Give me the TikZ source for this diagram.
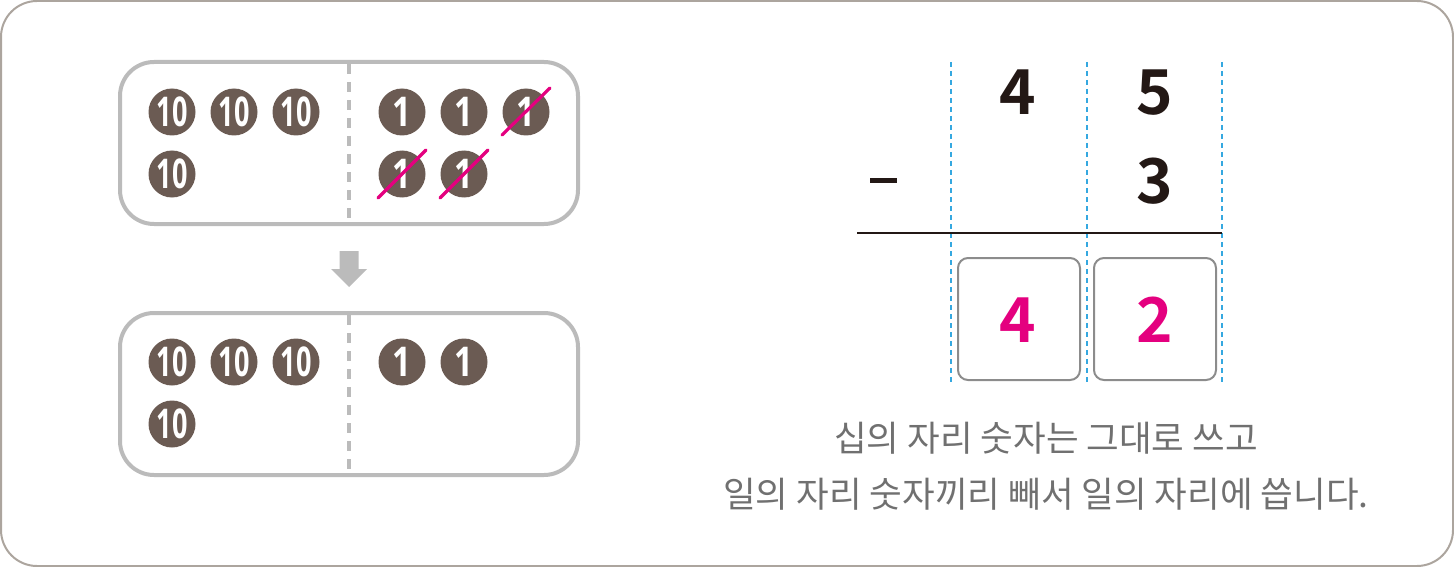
\documentclass[tikz,border=0pt]{standalone}
\usepackage{fontspec}
\newfontfamily\kr{Noto Sans CJK KR}
\newfontfamily\krb{Noto Sans CJK KR Bold}
\newfontfamily\coinfont{Open Sans}
\definecolor{frame}{HTML}{ACA59E}
\definecolor{boxgray}{HTML}{BBBBBB}
\definecolor{coin}{HTML}{6B5B53}
\definecolor{mag}{HTML}{E4007F}
\definecolor{dblue}{HTML}{35A8E0}
\definecolor{ansbox}{HTML}{8C8C8C}
\definecolor{txtgray}{HTML}{707070}
\definecolor{ink}{HTML}{231815}
\begin{document}
\begin{tikzpicture}[x=1pt,y=-1pt,
  coinnode/.style={circle,fill=coin,minimum size=47pt,inner sep=0pt,text=white,
    font=\coinfont\bfseries\fontsize{41}{41}\selectfont},
  panel/.style={draw=boxgray,line width=4pt,rounded corners=34pt},
  divider/.style={draw=boxgray,line width=3.5pt,dash pattern=on 10pt off 8pt},
  cross/.style={draw=mag,line width=3.2pt,line cap=round},
  guide/.style={draw=dblue,line width=1.3pt,dash pattern=on 5pt off 4pt},
  digit/.style={anchor=base,inner sep=0pt,text=ink,font=\krb\fontsize{62}{62}\selectfont},
  ansbox/.style={draw=ansbox,line width=2pt,rounded corners=10pt},
  note/.style={anchor=base,inner sep=0pt,text=txtgray,font=\kr\fontsize{35.5}{35.5}\selectfont}
]
\useasboundingbox (0,0) rectangle (1454,567);
% outer frame
\draw[draw=frame,line width=2pt,rounded corners=36pt] (1,1) rectangle (1453,566);

% top panel
\draw[panel] (120,62) rectangle (578,224);
\coordinate (d1t) at (349,64);
\coordinate (d1b) at (349,222);
\draw[divider] (d1t) -- (d1b);
\node[coinnode] (t1) at (172,112) {\scalebox{0.66}[1]{10}};
\node[coinnode] (t2) at (234,112) {\scalebox{0.66}[1]{10}};
\node[coinnode] (t3) at (296,112) {\scalebox{0.66}[1]{10}};
\node[coinnode] (t4) at (172,174) {\scalebox{0.66}[1]{10}};
\node[coinnode] (o1) at (402,112) {\scalebox{0.8}[1]{1}};
\node[coinnode] (o2) at (464,112) {\scalebox{0.8}[1]{1}};
\node[coinnode] (o3) at (526,112) {\scalebox{0.8}[1]{1}};
\node[coinnode] (o4) at (402,174) {\scalebox{0.8}[1]{1}};
\node[coinnode] (o5) at (464,174) {\scalebox{0.8}[1]{1}};
\draw[cross] ([shift={(-24,23)}]o3.center) -- ([shift={(24,-24)}]o3.center);
\draw[cross] ([shift={(-24,24)}]o4.center) -- ([shift={(24,-24)}]o4.center);
\draw[cross] ([shift={(-24,24)}]o5.center) -- ([shift={(24,-24)}]o5.center);

% arrow
\fill[boxgray] (339.5,251) -- (358.5,251) -- (358.5,269) -- (367,269) -- (349,287) -- (331,269) -- (339.5,269) -- cycle;

% bottom panel
\draw[panel] (120,313) rectangle (578,475);
\coordinate (d2t) at (349,315);
\coordinate (d2b) at (349,473);
\draw[divider] (d2t) -- (d2b);
\node[coinnode] (b1) at (172,362) {\scalebox{0.66}[1]{10}};
\node[coinnode] (b2) at (234,362) {\scalebox{0.66}[1]{10}};
\node[coinnode] (b3) at (296,362) {\scalebox{0.66}[1]{10}};
\node[coinnode] (b4) at (172,424) {\scalebox{0.66}[1]{10}};
\node[coinnode] (p1) at (402,362) {\scalebox{0.8}[1]{1}};
\node[coinnode] (p2) at (464,362) {\scalebox{0.8}[1]{1}};

% guides
\coordinate (g1t) at (951,62); \coordinate (g1b) at (951,382);
\coordinate (g2t) at (1087,62); \coordinate (g2b) at (1087,382);
\coordinate (g3t) at (1222,62); \coordinate (g3b) at (1222,382);
\draw[guide] (g1t) -- (g1b);
\draw[guide] (g2t) -- (g2b);
\draw[guide] (g3t) -- (g3b);

% numbers
\node[digit] (n4) at (1018,115) {4};
\node[digit] (n5) at (1155,115) {5};
\node[digit] (n3) at (1155,203) {3};
\coordinate (m1) at (870,180);
\coordinate (m2) at (897,180);
\draw[ink,line width=5pt] (m1) -- (m2);
\coordinate (l1) at (857,233);
\coordinate (l2) at (1222,233);
\draw[ink,line width=2pt] (l1) -- (l2);

% answer boxes
\draw[ansbox] (958,258) rectangle (1080,380);
\draw[ansbox] (1094,258) rectangle (1216,380);
\node[digit,text=mag] (a4) at (1018,342) {4};
\node[digit,text=mag] (a2) at (1155,342) {2};

% notes
\node[note] (line1) at (1046,451) {십의 자리 숫자는 그대로 쓰고};
\node[note] (line2) at (1046,507) {일의 자리 숫자끼리 빼서 일의 자리에 씁니다.};
\end{tikzpicture}
\end{document}
